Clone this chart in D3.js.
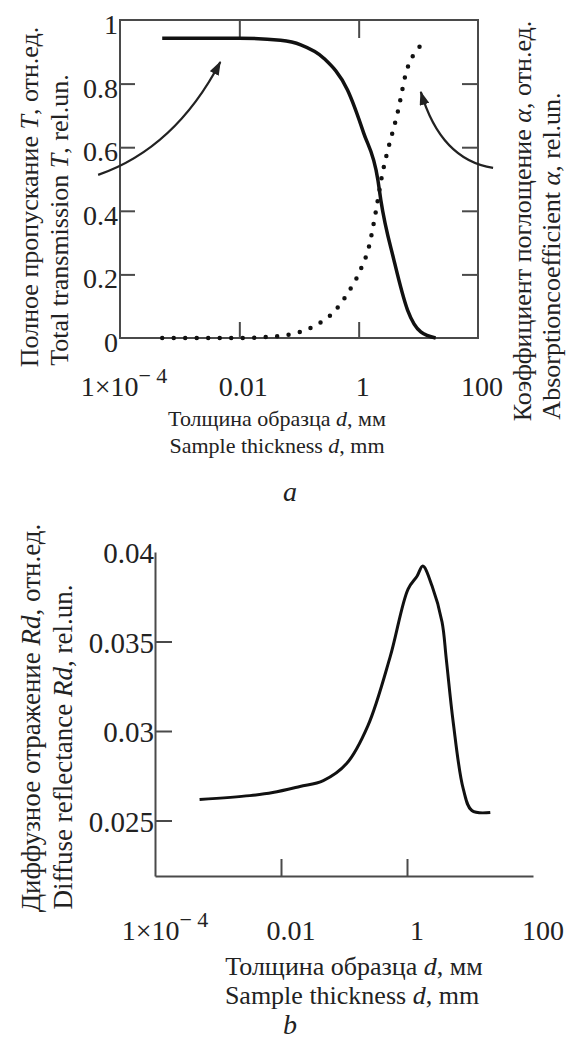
<!DOCTYPE html>
<html>
<head>
<meta charset="utf-8">
<script src="https://cdn.jsdelivr.net/npm/d3@7"></script>
<style>
    body { margin: 0; background: #fff; }
    svg text { font-family: "Liberation Serif", "DejaVu Serif", "Times New Roman", Times, serif; fill: #222; }
</style>
</head>
<body>
<svg id="chart" width="569" height="1039" font-family="Liberation Serif, DejaVu Serif, serif"></svg>
<script>
// panel a: total transmission T and absorption coefficient alpha vs thickness d (mm)
var thicknessT   = [5.1e-4, 0.01, 0.049, 0.107, 0.26, 0.65, 1.21, 2.1, 2.35, 3.9, 6.6, 11, 19.5];
var transmission = [0.943, 0.943, 0.936, 0.922, 0.88, 0.78, 0.645, 0.497, 0.434, 0.245, 0.088, 0.019, 0.0];

var thicknessA = [5.1e-4, 0.01, 0.022, 0.065, 0.17, 0.41, 0.65, 1.07, 1.48, 1.95, 2.35, 4.6, 6.6, 14.5];
var absorption = [0, 0, 0.002, 0.01, 0.035, 0.088, 0.14, 0.214, 0.286, 0.40, 0.49, 0.717, 0.85, 0.937];

// panel b: diffuse reflectance Rd vs thickness d (mm)
var thicknessR  = [5.1e-4, 3.2e-3, 7.4e-3, 0.02, 0.047, 0.11, 0.24, 0.54, 1.04, 1.45, 1.78, 2.5, 3.6, 4.2, 5.4, 7.8, 10.7, 21];
var reflectance = [0.02617, 0.02639, 0.02656, 0.0269, 0.02723, 0.02818, 0.0303, 0.03414, 0.03793, 0.03866, 0.03922, 0.0381, 0.03609, 0.03403, 0.03052, 0.02678, 0.02556, 0.02545];

var xTickValues  = [1e-4, 0.01, 1, 100];
var xInnerTicks  = [0.01, 1];
var yTicksT      = [0, 0.2, 0.4, 0.6, 0.8, 1];
var yInnerTicksT = [0.2, 0.4, 0.6, 0.8];
var yTicksR      = [0.025, 0.03, 0.035, 0.04];

// arrows in data space: [d, value] for tail, control, tip
var arrowLeft  = [[4.3e-5, 0.513], [8.4e-4, 0.597], [4.8e-3, 0.868]];
var arrowRight = [[179, 0.535], [23.9, 0.56], [11.0, 0.774]];

var svg = d3.select("#chart");
var ink = "#222", axisInk = "#4a4a4a";
var serif = "'Liberation Serif', 'DejaVu Serif', serif";

svg.append("defs").append("marker")
    .attr("id", "head")
    .attr("markerUnits", "userSpaceOnUse")
    .attr("markerWidth", 14).attr("markerHeight", 10)
    .attr("refX", 13).attr("refY", 5)
    .attr("orient", "auto")
    .append("path")
    .attr("d", "M0,0 L14,5 L0,10 z")
    .attr("fill", ink);

function xLabel(g, x, y, v) {
    var t = g.append("text").attr("x", x).attr("y", y)
        .style("font-family", serif)
        .attr("text-anchor", "middle").attr("font-size", 28);
    if (v < 1e-3) {
        t.append("tspan").text("1\u00d710");
        t.append("tspan").attr("dy", -13).attr("font-size", 22).text("\u2212 4");
    } else {
        t.text(d3.format("~g")(v));
    }
}

function titleLine(g, x, y, parts, size, rotate) {
    var t = g.append("text")
        .style("font-family", serif)
        .attr("text-anchor", "middle")
        .attr("font-size", size);
    if (rotate) t.attr("transform", "translate(" + x + "," + y + ") rotate(-90)");
    else t.attr("x", x).attr("y", y);
    parts.forEach(function(p) {
        var s = t.append("tspan").text(p[0]);
        if (p[1]) s.attr("font-style", "italic");
    });
}

// ---------------- panel a ----------------
(function() {
    var x = d3.scaleLog().domain([1e-4, 100]).range([120, 478]);
    var y = d3.scaleLinear().domain([0, 1]).range([338, 20]);
    var g = svg.append("g");

    g.append("rect")
        .attr("x", x(1e-4)).attr("y", y(1))
        .attr("width", x(100) - x(1e-4)).attr("height", y(0) - y(1))
        .attr("fill", "none").attr("stroke", axisInk).attr("stroke-width", 2);

    var axes = [
        [d3.axisLeft(y).tickValues(yInnerTicksT).tickSize(-15), "translate(" + x(1e-4) + ",0)"],
        [d3.axisRight(y).tickValues(yInnerTicksT).tickSize(-16), "translate(" + x(100) + ",0)"],
        [d3.axisTop(x).tickValues(xInnerTicks).tickSize(-18), "translate(0," + y(1) + ")"],
        [d3.axisBottom(x).tickValues(xInnerTicks).tickSize(-16), "translate(0," + y(0) + ")"]
    ];
    axes.forEach(function(a) {
        var ag = g.append("g").attr("transform", a[1]).call(a[0].tickFormat(""));
        ag.select(".domain").remove();
        ag.selectAll(".tick line").attr("stroke", axisInk).attr("stroke-width", 2);
    });

    g.selectAll("text.ylab").data(yTicksT).enter().append("text")
        .attr("class", "ylab")
        .style("font-family", serif)
        .attr("x", x(1e-4) - 2)
        .attr("y", function(d) { return y(d) + 14; })
        .attr("text-anchor", "end")
        .attr("font-size", 28)
        .text(function(d) { return d3.format("~g")(d); });

    xTickValues.forEach(function(v) { xLabel(g, x(v) + 4, 396, v); });

    var line = d3.line()
        .x(function(d) { return x(d[0]); })
        .y(function(d) { return y(d[1]); })
        .curve(d3.curveMonotoneX);

    g.append("path")
        .datum(d3.zip(thicknessT, transmission))
        .attr("d", line)
        .attr("fill", "none").attr("stroke", "#111")
        .attr("stroke-width", 3.5);

    g.append("path")
        .datum(d3.zip(thicknessA, absorption))
        .attr("d", line)
        .attr("fill", "none").attr("stroke", "#111")
        .attr("stroke-width", 4.5)
        .attr("stroke-linecap", "round")
        .attr("stroke-dasharray", "0 11.5");

    [arrowLeft, arrowRight].forEach(function(a) {
        var p = a.map(function(d) { return [x(d[0]), y(d[1])]; });
        g.append("path")
            .attr("d", "M" + p[0] + "Q" + p[1] + " " + p[2])
            .attr("fill", "none").attr("stroke", ink)
            .attr("stroke-width", 2.2)
            .attr("marker-end", "url(#head)");
    });

    titleLine(g, 38, 197, [["Полное пропускание ", 0], ["T", 1], [", отн.ед.", 0]], 26, true);
    titleLine(g, 68, 220, [["Total transmission ", 0], ["T", 1], [", rel.un.", 0]], 26, true);
    titleLine(g, 531, 221, [["Коэффициент поглощение ", 0], ["α", 1], [", отн.ед.", 0]], 26, true);
    titleLine(g, 560, 256, [["Absorptioncoefficient ", 0], ["α", 1], [", rel.un.", 0]], 26, true);

    titleLine(g, 277, 426, [["Толщина образца ", 0], ["d", 1], [", мм", 0]], 22, false);
    titleLine(g, 277, 453, [["Sample thickness ", 0], ["d", 1], [", mm", 0]], 22, false);
    titleLine(g, 290, 501, [["a", 1]], 28, false);
})();

// ---------------- panel b ----------------
(function() {
    var x = d3.scaleLog().domain([1e-4, 100]).range([155, 533]);
    var y = d3.scaleLinear().domain([0.0219, 0.04]).range([876, 552]);
    var g = svg.append("g");

    var ay = g.append("g").attr("transform", "translate(" + x(1e-4) + ",0)")
        .call(d3.axisLeft(y).tickValues(yTicksR.slice(0, 3)).tickSize(-17).tickFormat("").tickSizeOuter(0));
    var ax = g.append("g").attr("transform", "translate(0," + y.range()[0] + ")")
        .call(d3.axisBottom(x).tickValues(xInnerTicks).tickSize(-17).tickFormat("").tickSizeOuter(0));
    [ay, ax].forEach(function(a) {
        a.select(".domain").attr("stroke", axisInk).attr("stroke-width", 2);
        a.selectAll(".tick line").attr("stroke", axisInk).attr("stroke-width", 2);
    });

    g.selectAll("text.ylab").data(yTicksR).enter().append("text")
        .attr("class", "ylab")
        .style("font-family", serif)
        .attr("x", x(1e-4) - 1)
        .attr("y", function(d) { return y(d) + 11; })
        .attr("text-anchor", "end")
        .attr("font-size", 29)
        .text(function(d) { return d3.format("~g")(d); });

    xTickValues.forEach(function(v) { xLabel(g, x(v) + 10, 940, v); });

    var line = d3.line()
        .x(function(d) { return x(d[0]); })
        .y(function(d) { return y(d[1]); })
        .curve(d3.curveCatmullRom.alpha(0.5));

    g.append("path")
        .datum(d3.zip(thicknessR, reflectance))
        .attr("d", line)
        .attr("fill", "none").attr("stroke", "#111")
        .attr("stroke-width", 3);

    titleLine(g, 40, 718, [["Диффузное отражение ", 0], ["Rd", 1], [", отн.ед.", 0]], 27, true);
    titleLine(g, 72, 747, [["Diffuse  reflectance ", 0], ["Rd", 1], [", rel.un.", 0]], 27, true);

    titleLine(g, 354, 975, [["Толщина образца ", 0], ["d", 1], [", мм", 0]], 26, false);
    titleLine(g, 352, 1004, [["Sample thickness ", 0], ["d", 1], [", mm", 0]], 26, false);
    titleLine(g, 290, 1034, [["b", 1]], 28, false);
})();
</script>
</body>
</html>
